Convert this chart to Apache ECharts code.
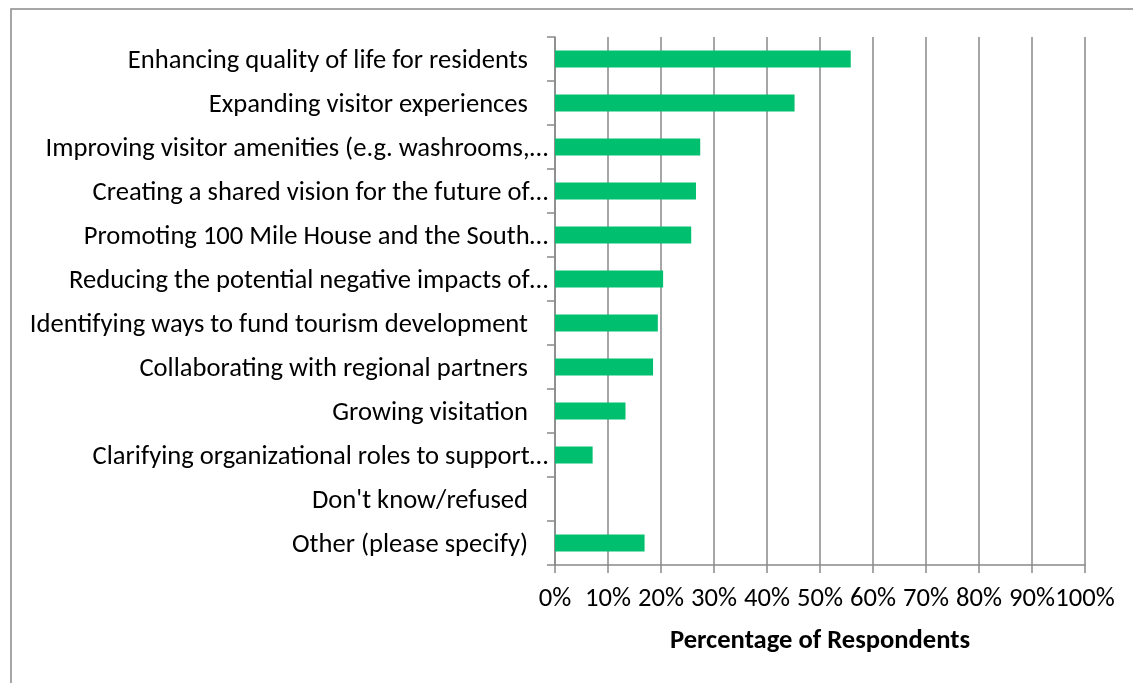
<!DOCTYPE html>
<html>
<head>
<meta charset="utf-8">
<style>html,body{margin:0;padding:0;background:#fff;}#chart{width:1133px;height:683px;}</style>
<script src="https://cdn.jsdelivr.net/npm/echarts@6/dist/echarts.min.js"></script>
</head>
<body>
<div id="chart"></div>
<script>
// Categories listed bottom-to-top (ECharts category y-axis starts at the bottom)
var categories = [
  "Other (please specify)",
  "Don't know/refused",
  "Clarifying organizational roles to support…",
  "Growing visitation",
  "Collaborating with regional partners",
  "Identifying ways to fund tourism development",
  "Reducing the potential negative impacts of…",
  "Promoting 100 Mile House and the South…",
  "Creating a shared vision for the future of…",
  "Improving visitor amenities (e.g. washrooms,…",
  "Expanding visitor experiences",
  "Enhancing quality of life for residents"
];
var percentages = [16.9, 0, 7.1, 13.3, 18.5, 19.4, 20.4, 25.7, 26.6, 27.4, 45.2, 55.8];
var xTicks = [0, 10, 20, 30, 40, 50, 60, 70, 80, 90, 100];
var xAxisTitle = "Percentage of Respondents";

var FONT = 'Carlito, Calibri, Lato, sans-serif';
var FS = 26.6;
var chart = echarts.init(document.getElementById('chart'), null, {renderer: 'canvas'});
chart.setOption({
  animation: false,
  backgroundColor: '#ffffff',
  graphic: [{
    type: 'rect',
    shape: {x: 11, y: 9, width: 1300, height: 900},
    style: {fill: 'none', stroke: '#898989', lineWidth: 1.5},
    silent: true, z: -10
  }],
  grid: {left: 555, right: 48, top: 37, bottom: 118, containLabel: false},
  xAxis: {
    type: 'value',
    min: xTicks[0],
    max: xTicks[xTicks.length - 1],
    interval: 10,
    name: xAxisTitle,
    nameLocation: 'middle',
    nameGap: 63,
    nameTextStyle: {fontFamily: FONT, fontSize: FS, fontWeight: 'bold', color: '#000'},
    axisLine: {show: true, lineStyle: {color: '#898989', width: 1.5}},
    axisTick: {show: true, length: 8, lineStyle: {color: '#898989', width: 1.5}},
    axisLabel: {
      margin: 21, fontFamily: FONT, fontSize: FS, color: '#000',
      formatter: function (v) { return v + '%'; }
    },
    splitLine: {show: true, lineStyle: {color: '#898989', width: 1.5}}
  },
  yAxis: {
    type: 'category',
    data: categories,
    boundaryGap: true,
    axisLine: {show: true, lineStyle: {color: '#898989', width: 1.5}},
    axisTick: {show: true, length: 8, alignWithLabel: false, lineStyle: {color: '#898989', width: 1.5}},
    axisLabel: {
      margin: 7, fontFamily: FONT, fontSize: FS, color: '#000', interval: 0,
      formatter: function (v) {
        return v.slice(-1) === '…' ? '{t|' + v + '}' : '{n|' + v + '}';
      },
      rich: {
        t: {fontFamily: FONT, fontSize: FS, color: '#000', padding: [4, 0, 0, 0]},
        n: {fontFamily: FONT, fontSize: FS, color: '#000', padding: [4, 20, 0, 0]}
      }
    },
    splitLine: {show: false}
  },
  series: [{
    type: 'bar',
    data: percentages,
    barWidth: 17,
    itemStyle: {color: '#00bf6f'},
    silent: true
  }]
});
</script>
</body>
</html>
